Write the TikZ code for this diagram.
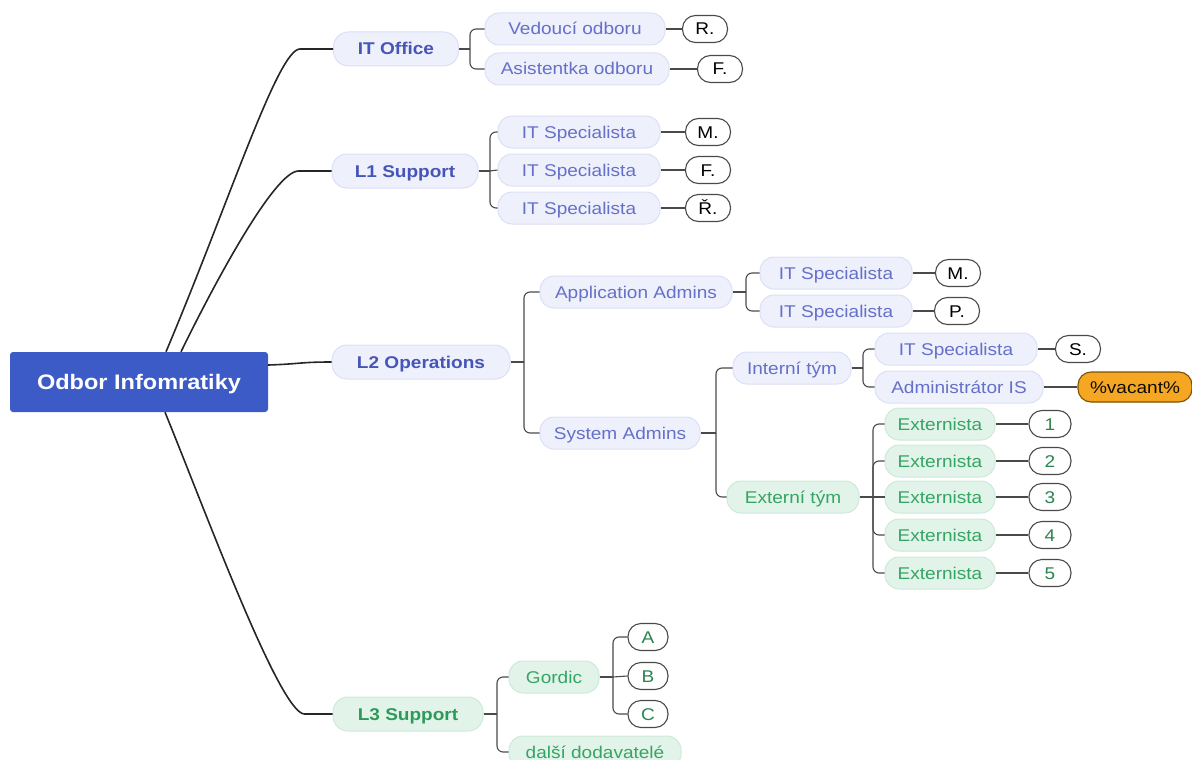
\documentclass[tikz,border=0pt]{standalone}
\usepackage{fontspec}
\setmainfont{Liberation Sans}[FakeStretch=1.12]
\usetikzlibrary{calc}
\definecolor{rootblue}{HTML}{3D5BC6}
\definecolor{bluebold}{HTML}{4655B8}
\definecolor{bluetext}{HTML}{6570C8}
\definecolor{lavfill}{HTML}{EEF0FC}
\definecolor{lavline}{HTML}{DCE0F6}
\definecolor{greenbold}{HTML}{2E9A5A}
\definecolor{greentext}{HTML}{35A563}
\definecolor{greenfill}{HTML}{E2F3E9}
\definecolor{greenline}{HTML}{CDEAD9}
\definecolor{vacfill}{HTML}{F5A623}
\definecolor{vacline}{HTML}{7A5200}
\definecolor{conn}{HTML}{4A4A4A}
\tikzset{
  rootbox/.style={fill=rootblue, rounded corners=3pt, text=white, font=\fontsize{21}{24}\selectfont\bfseries, minimum width=258pt, minimum height=60pt, inner sep=0pt, text height=15pt, text depth=0pt},
  txt/.style={font=\fontsize{17}{20}\selectfont, inner sep=0pt, text height=12pt, text depth=0pt},
  topblue/.style={txt, fill=lavfill, draw=lavline, line width=1pt, rounded corners=15pt, text=bluebold, font=\fontsize{17}{20}\selectfont\bfseries, minimum height=34pt},
  subblue/.style={txt, fill=lavfill, draw=lavline, line width=1pt, rounded corners=14pt, text=bluetext, minimum height=32pt},
  topgreen/.style={txt, fill=greenfill, draw=greenline, line width=1pt, rounded corners=15pt, text=greenbold, font=\fontsize{17}{20}\selectfont\bfseries, minimum height=34pt},
  subgreen/.style={txt, fill=greenfill, draw=greenline, line width=1pt, rounded corners=14pt, text=greentext, minimum height=32pt},
  person/.style={txt, fill=white, draw=conn, line width=1.1pt, rounded corners=13pt, text=black, minimum height=27pt, minimum width=45pt},
  gperson/.style={person, text=greentext!80!black, minimum width=42pt},
  vacbox/.style={txt, fill=vacfill, draw=vacline, line width=1.1pt, rounded corners=13pt, text=black!85!vacline, minimum height=30pt, minimum width=114pt},
  mainlink/.style={draw=black!85, line width=1.6pt},
  branch/.style={draw=conn, line width=1.1pt},
  elbow/.style={draw=conn, line width=1.1pt, rounded corners=6pt},
}
\begin{document}
\begin{tikzpicture}[x=1pt, y=-1pt]
\useasboundingbox (0,0) rectangle (1192,760);
% root
\node[rootbox] (root) at (139,382) {Odbor Infomratiky};
% level 1
\node[topblue, minimum width=125pt] (ito) at (396,49) {IT Office};
\node[topblue, minimum width=146pt] (l1) at (405,171) {L1 Support};
\node[topblue, minimum width=178pt] (l2) at (421,362) {L2 Operations};
\node[topgreen, minimum width=150pt] (l3) at (408,714) {L3 Support};
% IT Office
\node[subblue, minimum width=180pt] (ved) at (575,29) {Vedoucí odboru};
\node[subblue, minimum width=184pt] (asi) at (577,69) {Asistentka odboru};
\node[person] (pR) at (705,29) {R.};
\node[person] (pF) at (720,69) {F.};
% L1
\node[subblue, minimum width=162pt] (s1) at (579,132) {IT Specialista};
\node[subblue, minimum width=162pt] (s2) at (579,170) {IT Specialista};
\node[subblue, minimum width=162pt] (s3) at (579,208) {IT Specialista};
\node[person] (pM1) at (708,132) {M.};
\node[person] (pF2) at (708,170) {F.};
\node[person] (pR2) at (708,208) {Ř.};
% L2
\node[subblue, minimum width=192pt] (app) at (636,292) {Application Admins};
\node[subblue, minimum width=152pt] (as1) at (836,273) {IT Specialista};
\node[subblue, minimum width=152pt] (as2) at (836,311) {IT Specialista};
\node[person] (pM2) at (958,273) {M.};
\node[person] (pP) at (957,311) {P.};
\node[subblue, minimum width=160pt] (sys) at (620,433) {System Admins};
\node[subblue, minimum width=118pt] (int) at (792,368) {Interní tým};
\node[subblue, minimum width=162pt] (is1) at (956,349) {IT Specialista};
\node[subblue, minimum width=168pt] (adm) at (959,387) {Administrátor IS};
\node[person] (pS) at (1078,349) {S.};
\node[vacbox] (vac) at (1135,387) {\%vacant\%};
\node[subgreen, minimum width=132pt] (ext) at (793,497) {Externí tým};
\node[subgreen, minimum width=110pt] (e1) at (940,424) {Externista};
\node[subgreen, minimum width=110pt] (e2) at (940,461) {Externista};
\node[subgreen, minimum width=110pt] (e3) at (940,497) {Externista};
\node[subgreen, minimum width=110pt] (e4) at (940,535) {Externista};
\node[subgreen, minimum width=110pt] (e5) at (940,573) {Externista};
\node[gperson] (n1) at (1050,424) {1};
\node[gperson] (n2) at (1050,461) {2};
\node[gperson] (n3) at (1050,497) {3};
\node[gperson] (n4) at (1050,535) {4};
\node[gperson] (n5) at (1050,573) {5};
% L3
\node[subgreen, minimum width=90pt] (gor) at (554,677) {Gordic};
\node[gperson, minimum width=40pt] (gA) at (648,637) {A};
\node[gperson, minimum width=40pt] (gB) at (648,676) {B};
\node[gperson, minimum width=40pt] (gC) at (648,714) {C};
\node[subgreen, minimum width=172pt] (dal) at (595,752) {další dodavatelé};

% main links
\draw[mainlink] ([xshift=27pt]root.north) .. controls (230,200) and (278,49) .. ($(ito.west)+(-33,0)$) -- (ito.west);
\draw[mainlink] ([xshift=42pt]root.north) .. controls (220,272) and (276,171) .. ($(l1.west)+(-33,0)$) -- (l1.west);
\draw[mainlink] ([yshift=17pt]root.east) .. controls (300,364) and (300,362) .. (l2.west);
\draw[mainlink] ([xshift=26pt]root.south) .. controls (205,510) and (280,714) .. ($(l3.west)+(-28,0)$) -- (l3.west);

% junctions
\coordinate (jito) at (470,49);
\coordinate (jl1) at (490,171);
\coordinate (jl2) at (524,362);
\coordinate (japp) at (746,292);
\coordinate (jsys) at (716,433);
\coordinate (jint) at (863,368);
\coordinate (jext) at (873,497);
\coordinate (jl3) at (497,714);
\coordinate (jgor) at (613,677);

\draw[branch] (ito.east) -- (jito);
\draw[elbow] (jito) |- (ved.west);
\draw[elbow] (jito) |- (asi.west);
\draw[branch] (l1.east) -- (jl1);
\draw[elbow] (jl1) |- (s1.west);
\draw[branch] (jl1) -- (s2.west);
\draw[elbow] (jl1) |- (s3.west);
\draw[branch] (l2.east) -- (jl2);
\draw[elbow] (jl2) |- (app.west);
\draw[elbow] (jl2) |- (sys.west);
\draw[branch] (app.east) -- (japp);
\draw[elbow] (japp) |- (as1.west);
\draw[elbow] (japp) |- (as2.west);
\draw[branch] (sys.east) -- (jsys);
\draw[elbow] (jsys) |- (int.west);
\draw[elbow] (jsys) |- (ext.west);
\draw[branch] (int.east) -- (jint);
\draw[elbow] (jint) |- (is1.west);
\draw[elbow] (jint) |- (adm.west);
\draw[branch] (ext.east) -- (jext);
\draw[elbow] (jext) |- (e1.west);
\draw[elbow] (jext) |- (e2.west);
\draw[branch] (jext) -- (e3.west);
\draw[elbow] (jext) |- (e4.west);
\draw[elbow] (jext) |- (e5.west);
\draw[branch] (l3.east) -- (jl3);
\draw[elbow] (jl3) |- (gor.west);
\draw[elbow] (jl3) |- (dal.west);
\draw[branch] (gor.east) -- (jgor);
\draw[elbow] (jgor) |- (gA.west);
\draw[branch] (jgor) -- (gB.west);
\draw[elbow] (jgor) |- (gC.west);

% leaves
\draw[branch] (ved.east) -- (pR.west);
\draw[branch] (asi.east) -- (pF.west);
\draw[branch] (s1.east) -- (pM1.west);
\draw[branch] (s2.east) -- (pF2.west);
\draw[branch] (s3.east) -- (pR2.west);
\draw[branch] (as1.east) -- (pM2.west);
\draw[branch] (as2.east) -- (pP.west);
\draw[branch] (is1.east) -- (pS.west);
\draw[branch] (adm.east) -- (vac.west);
\draw[branch] (e1.east) -- (n1.west);
\draw[branch] (e2.east) -- (n2.west);
\draw[branch] (e3.east) -- (n3.west);
\draw[branch] (e4.east) -- (n4.west);
\draw[branch] (e5.east) -- (n5.west);
\end{tikzpicture}
\end{document}
